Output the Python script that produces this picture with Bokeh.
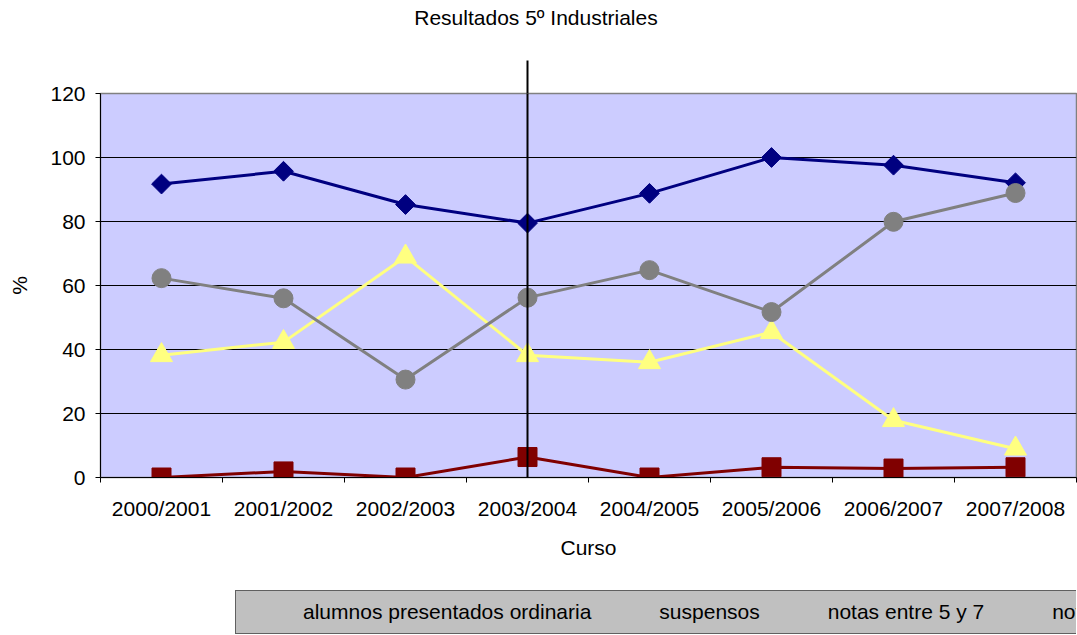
import math
from bokeh.plotting import figure
from bokeh.layouts import column
from bokeh.models import (Range1d, FixedTicker, Legend, LegendItem,
                          LinearAxis, Span)
from bokeh.embed import file_html
from bokeh.resources import INLINE

# ---- data ----
categories = ["2000/2001", "2001/2002", "2002/2003", "2003/2004",
              "2004/2005", "2005/2006", "2006/2007", "2007/2008"]
presentados = [91.7, 95.7, 85.3, 79.5, 88.8, 100.0, 97.6, 92.1]
suspensos = [0.0, 1.9, 0.0, 6.4, 0.0, 3.2, 2.8, 3.2]
notas_5_7 = [38.2, 42.3, 69.0, 38.2, 36.0, 45.4, 17.9, 9.0]
nota_7 = [62.3, 56.0, 30.6, 56.2, 64.8, 51.7, 79.9, 88.9]
y_ticks = [0, 20, 40, 60, 80, 100, 120]
series_names = ["alumnos presentados ordinaria", "suspensos",
                "notas entre 5 y 7", "nota > 7"]
title_text = "Resultados 5º Industriales"
x_title = "Curso"
y_title = "%"
divider_category = "2003/2004"

FONT = "Liberation Sans"
FS = "21px"

# ---- layout (pixels) ----
W, H = 1077, 635
LEG_H = 45                      # strip holding the legend
L, R, T, B = 100, 1, 93, 113
n = len(categories)
xs = [i + 0.5 for i in range(n)]

p = figure(width=W, height=H - LEG_H,
           frame_width=W - L - R, frame_height=H - LEG_H - T - B,
           output_backend="svg", toolbar_location=None,
           title=None, x_range=Range1d(0, n), y_range=Range1d(0, y_ticks[-1]),
           min_border_left=L, min_border_right=R, min_border_top=T,
           min_border_bottom=B)
p.background_fill_color = "#CCCCFF"
p.border_fill_color = "white"
p.outline_line_color = "#808080"
p.outline_line_width = 1.5

# main axes
xa = p.xaxis[0]
xa.ticker = FixedTicker(ticks=xs, minor_ticks=list(range(n + 1)))
xa.major_label_overrides = {x: c for x, c in zip(xs, categories)}
xa.major_tick_out = 0
xa.major_tick_in = 0
xa.minor_tick_out = 5
xa.minor_tick_in = 0
xa.minor_tick_line_color = "black"
xa.major_label_standoff = 14
xa.axis_label = x_title
xa.axis_label_standoff = 13

ya = p.yaxis[0]
ya.ticker = FixedTicker(ticks=y_ticks)
ya.major_tick_out = 5
ya.major_tick_in = 0
ya.minor_tick_line_color = None
ya.major_label_standoff = 10
ya.axis_label = y_title
ya.axis_label_standoff = 16

for ax in (xa, ya):
    ax.axis_line_color = "black"
    ax.major_tick_line_color = "black"
    ax.major_label_text_font = FONT
    ax.major_label_text_font_size = FS
    ax.major_label_text_color = "black"
    ax.axis_label_text_font = FONT
    ax.axis_label_text_font_size = FS
    ax.axis_label_text_font_style = "normal"
    ax.axis_label_text_color = "black"

p.xgrid.grid_line_color = None
p.ygrid.ticker = FixedTicker(ticks=y_ticks[1:-1])
p.ygrid.grid_line_color = "black"
p.ygrid.grid_line_width = 1

# series
styles = [
    (presentados, "#000080", "square", 14, 45),
    (suspensos, "#800000", "square", 19, 0),
    (notas_5_7, "#FFFF80", "triangle", 22, 0),
    (nota_7, "#808080", "circle", 19, 0),
]
for vals, col, mk, sz, ang in styles:
    p.line(xs, vals, line_color=col, line_width=3)
    p.scatter(xs, vals, marker=mk, size=sz, angle=math.radians(ang),
              fill_color=col, line_color=col)

# ---- vertical divider line at the 2003/2004 course ----
xd = categories.index(divider_category) + 0.5
p.add_layout(Span(location=xd, dimension="height", line_color="black",
                  line_width=2))

# above the plot area: the divider continues as one long minor tick of a
# label-less axis whose axis label carries the chart title
# (trailing no-break spaces shift the centred title to the left)
top_axis = LinearAxis(ticker=FixedTicker(ticks=[], minor_ticks=[xd]),
                      axis_line_color=None, major_tick_out=0,
                      major_tick_in=0, major_label_standoff=0,
                      major_label_text_font_size="0px",
                      minor_tick_out=33, minor_tick_in=0,
                      minor_tick_line_color="black",
                      minor_tick_line_width=2,
                      axis_label=title_text + "\u00a0" * 18,
                      axis_label_standoff=32,
                      axis_label_text_font=FONT, axis_label_text_font_size=FS,
                      axis_label_text_font_style="normal",
                      axis_label_text_color="black")
p.add_layout(top_axis, "above")

# ---- legend strip (separate small figure under the chart) ----
pl = figure(width=W, height=LEG_H, output_backend="svg",
            toolbar_location=None, title=None,
            x_axis_type=None, y_axis_type=None,
            x_range=Range1d(0, 1), y_range=Range1d(0, 1),
            min_border_left=0, min_border_right=0, min_border_top=0,
            min_border_bottom=0)
pl.outline_line_color = None
pl.background_fill_color = "white"
pl.border_fill_color = "white"
items = []
for (vals, col, mk, sz, ang), name in zip(styles, series_names):
    ln = pl.line([], [], line_color=col, line_width=3)
    sc = pl.scatter([], [], marker=mk, size=sz, angle=math.radians(ang),
                    fill_color=col, line_color=col)
    items.append(LegendItem(label=name, renderers=[ln, sc]))

legend = Legend(items=items, orientation="horizontal", location=(135, 1),
                label_text_font=FONT, label_text_font_size=FS,
                label_text_color="black",
                glyph_width=55, glyph_height=20, label_standoff=3,
                spacing=10, padding=9, margin=0,
                border_line_color="black", border_line_width=1,
                background_fill_color="#C0C0C0", background_fill_alpha=1)
pl.add_layout(legend, "center")

layout = column(p, pl, spacing=0)
open("out.html", "w").write(file_html(layout, INLINE))
